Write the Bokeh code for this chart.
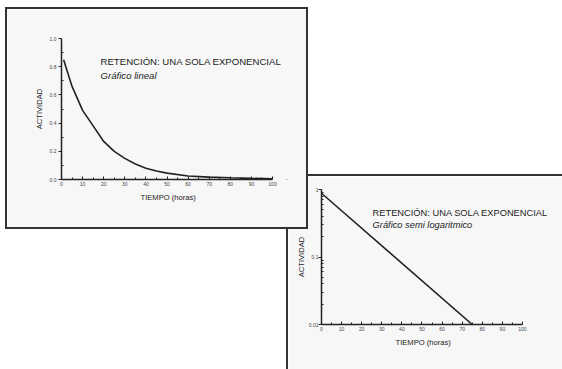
from bokeh.plotting import figure
from bokeh.layouts import column
from bokeh.models import (PrintfTickFormatter, CustomJSTickFormatter,
                          Label, Range1d, FixedTicker, Title)
from bokeh.embed import file_html
from bokeh.resources import INLINE

# ---- data ----
tiempo_lin = [1, 5, 10, 15, 20, 25, 30, 35, 40, 45, 50, 60, 70, 80, 90, 100]
actividad_lin = [0.85, 0.66, 0.49, 0.38, 0.27, 0.20, 0.15, 0.11, 0.08, 0.06, 0.045,
                 0.025, 0.017, 0.012, 0.008, 0.005]
tiempo_log = [0, 75]
actividad_log = [0.88, 0.01]

x_ticks = [0, 10, 20, 30, 40, 50, 60, 70, 80, 90, 100]
x_minor = [5, 15, 25, 35, 45, 55, 65, 75, 85, 95]
lin_ticks = [0.0, 0.2, 0.4, 0.6, 0.8, 1.0]
lin_minor = [0.1, 0.3, 0.5, 0.7, 0.9]
log_major = [0.01, 0.1, 1]
log_minor = [0.02, 0.03, 0.04, 0.05, 0.06, 0.07, 0.08, 0.09,
             0.2, 0.3, 0.4, 0.5, 0.6, 0.7, 0.8, 0.9]

titulo = "RETENCIÓN: UNA SOLA EXPONENCIAL"
sub_lineal = "Gráfico lineal"
sub_log = "Gráfico semi logaritmico"
x_label = "TIEMPO (horas)"
y_label = "ACTIVIDAD"

FONT = "Liberation Sans"
PANEL = "#f7f7f7"
INK = "#222222"


def style(p, xlabel_offset):
    p.frame_align = False
    p.grid.visible = False
    p.outline_line_color = None
    p.background_fill_color = PANEL
    p.border_fill_color = PANEL
    for ax in p.axis:
        ax.axis_line_color = INK
        ax.axis_line_width = 1.5
        ax.major_tick_line_color = INK
        ax.minor_tick_line_color = INK
        ax.major_tick_line_width = 1
        ax.minor_tick_line_width = 1
        ax.major_label_text_font = FONT
        ax.major_label_text_font_size = "5px"
        ax.major_label_text_color = "#444444"
        ax.axis_label_text_font = FONT
        ax.axis_label_text_font_size = "7.6px"
        ax.axis_label_text_font_style = "normal"
        ax.axis_label_text_color = INK
    p.xaxis.bounds = (0, 100)
    p.xaxis.ticker = FixedTicker(ticks=x_ticks, minor_ticks=x_minor)
    p.xaxis.major_tick_in = 3
    p.xaxis.major_tick_out = 0
    p.xaxis.minor_tick_in = 2
    p.xaxis.minor_tick_out = 0
    p.xaxis.major_label_standoff = 2
    p.yaxis.major_tick_in = 0
    p.yaxis.major_tick_out = 3
    p.yaxis.minor_tick_in = 2
    p.yaxis.minor_tick_out = 0
    p.yaxis.major_label_standoff = 2
    # x-axis title, placed under the 0-100 span of the axis
    p.add_layout(Title(text=x_label, align="left", offset=xlabel_offset, standoff=4,
                       text_font=FONT, text_font_size="7.6px", text_font_style="normal",
                       text_color=INK), "below")


# ---- panel 1: linear ----
p1 = figure(width=303, height=222, output_backend="svg", toolbar_location=None,
            x_range=Range1d(0, 116.1), y_range=Range1d(0, 1.0),
            min_border_left=54, min_border_right=4, min_border_top=29, min_border_bottom=52,
            y_axis_label=y_label)
p1.line(tiempo_lin, actividad_lin, line_color=INK, line_width=1.6)
style(p1, 79)
p1.yaxis.ticker = FixedTicker(ticks=lin_ticks, minor_ticks=lin_minor)
p1.yaxis.formatter = PrintfTickFormatter(format="%.1f")
p1.yaxis.axis_label_standoff = 3
p1.add_layout(Label(x=18.5, y=0.837, text=titulo, text_font=FONT, text_font_size="9.6px",
                    text_color=INK, text_baseline="alphabetic"))
p1.add_layout(Label(x=18.5, y=0.741, text=sub_lineal, text_font=FONT, text_font_size="9.6px",
                    text_font_style="italic", text_color=INK, text_baseline="alphabetic"))
p1.styles = {"border": "2px solid #333333", "position": "relative", "z-index": "2"}
p1.margin = (7, 0, 0, 5)

# ---- panel 2: semi-log ----
p2 = figure(width=276, height=195, output_backend="svg", toolbar_location=None,
            y_axis_type="log",
            x_range=Range1d(0, 120.9), y_range=Range1d(0.01, 1),
            min_border_left=33, min_border_right=0, min_border_top=13, min_border_bottom=47,
            y_axis_label=y_label)
p2.line(tiempo_log, actividad_log, line_color=INK, line_width=1.6)
style(p2, 74)
p2.yaxis.ticker = FixedTicker(ticks=log_major, minor_ticks=log_minor)
p2.yaxis.formatter = CustomJSTickFormatter(code="return parseFloat(tick.toPrecision(3)).toString();")
p2.yaxis.major_label_standoff = 0
p2.yaxis.axis_label_standoff = 0
p2.add_layout(Label(x=25.4, y=0.449, text=titulo, text_font=FONT, text_font_size="9.3px",
                    text_color=INK, text_baseline="alphabetic"))
p2.add_layout(Label(x=25.4, y=0.293, text=sub_log, text_font=FONT, text_font_size="9.3px",
                    text_font_style="italic", text_color=INK, text_baseline="alphabetic"))
p2.styles = {"border-top": "2px solid #333333", "border-left": "2px solid #333333",
             "position": "relative", "z-index": "1"}
p2.margin = (-55, 0, 0, 286)

layout = column(p1, p2)
open("out.html", "w").write(file_html(layout, INLINE))
